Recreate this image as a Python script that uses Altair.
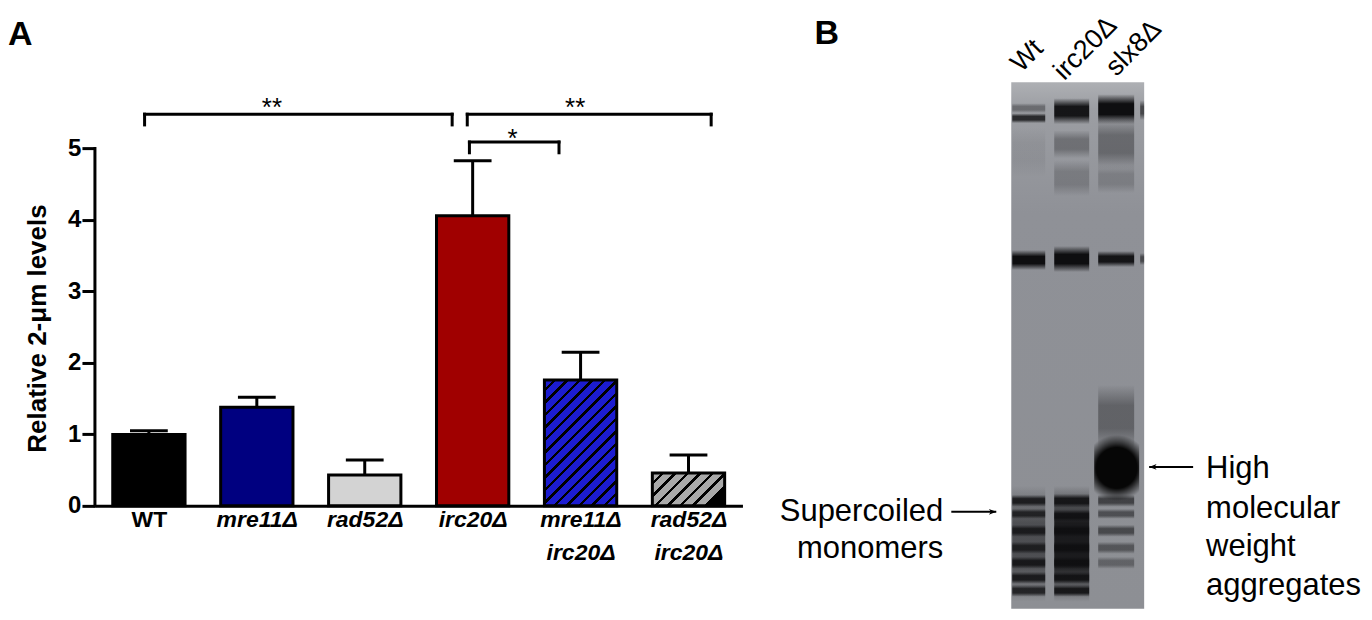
import json
import altair as alt
import pandas as pd

FONT = "Liberation Sans"

# ---------------- Panel A data ----------------
strains = ["WT", "mre11Δ", "rad52Δ", "irc20Δ", "mre11Δ irc20Δ", "rad52Δ irc20Δ"]
means = [1.00, 1.38, 0.43, 4.06, 1.76, 0.46]
sems = [0.05, 0.14, 0.21, 0.77, 0.39, 0.25]
fills = ["#000000", "#000080", "#d3d3d3", "#a00000", "#1c1cd0", "#a9a9a9"]
hatched = [False, False, False, False, True, True]

br_start = [-0.04, 2.95, 2.97]
br_end = [2.81, 5.21, 3.80]
br_level = [5.48, 5.48, 5.09]
br_label = ["**", "**", "*"]
br_label_x = [1.14, 3.95, 3.37]
br_label_y = [5.45, 5.45, 5.02]

# ---------------- Panel B data (gel, px-like units from gel top-left) ----------------
lane_names = ["Wt", "irc20Δ", "slx8Δ"]
lane_label_x = [10, 53, 105]
lane_label_y = [-9, -1, -5]
lane_left = [1, 43, 87, 129]
lane_right = [34, 78, 123, 133]
gel_w = 133
gel_h = 527

band_lane = [0] * 12 + [1] * 12 + [2] * 10 + [3] * 2
band_center = [26, 36, 70, 178, 462, 419, 432, 449, 466, 481, 496, 509,
               29, 62, 96, 177, 462, 419, 434, 449, 466, 481, 496, 509,
               27, 62, 97, 177, 335, 419, 432, 449, 466, 481,
               28, 177]
band_half = [5, 5, 25, 10, 58, 6, 5, 6, 6, 6, 6, 6,
             13, 14, 18, 13, 58, 7, 6, 6, 6, 6, 6, 6,
             15, 25, 14, 8, 32, 6, 5, 6, 6, 6,
             10, 6]
band_strength = [0.35, 0.8, 0.06, 1.0, 0.5, 0.85, 0.75, 0.8, 0.75, 0.85, 0.85, 0.8,
                 0.95, 0.3, 0.2, 1.0, 0.9, 0.9, 0.9, 0.9, 0.9, 0.9, 0.9, 0.9,
                 1.0, 0.35, 0.18, 0.95, 0.35, 0.6, 0.5, 0.55, 0.45, 0.35,
                 0.6, 0.55]

blob_lane = 2
blob_center = 386
blob_half = 33

left_text = ["Supercoiled", "monomers"]
left_text_y = [430, 467]
left_text_x = -68
right_text = ["High", "molecular", "weight", "aggregates"]
right_text_y = [387, 427, 465, 504]
right_text_x = 195
arrow_from = [-60, 182]
arrow_to = [-15, 138]
arrow_y = [430, 385]

# ---------------- Panel A chart ----------------
W_A, H_A, YMAX = 648, 422, 5.9
BAR_HALF = 0.335
STEP = W_A / 6
W_BAR_PX = 2 * BAR_HALF * STEP

xa = alt.Scale(domain=[-0.5, 5.5], nice=False, zero=False)
ya = alt.Scale(domain=[0, YMAX], nice=False, zero=False)

label_expr = "split(" + json.dumps(strains, ensure_ascii=False) + "[datum.value], ' ')"
ax_x = alt.Axis(values=[0, 1, 2, 3, 4, 5], labelExpr=label_expr, ticks=False,
                domainWidth=3, domainColor="black", labelFontSize=23,
                labelFontWeight="bold",
                labelFontStyle={"condition": {"test": "datum.value == 0", "value": "normal"}, "value": "italic"},
                labelLineHeight=33, labelPadding=3, labelOverlap=False, labelFlush=False,
                labelBound=False, grid=False, title=None, labelColor="black", labelFont=FONT,
                labelAngle=0)
ax_y = alt.Axis(values=[0, 1, 2, 3, 4, 5], tickSize=13, tickWidth=3, tickColor="black",
                domain=False, labelFontSize=24, labelFontWeight="bold", labelPadding=1,
                grid=False, title="Relative 2-μm levels", titleFontSize=26,
                titleFontWeight="bold", titleX=-44, titleY=244, titleColor="black",
                labelColor="black", labelFont=FONT, titleFont=FONT)

df = pd.DataFrame({"strain": strains, "mean": means, "sem": sems, "fill": fills,
                   "hatched": hatched})
df["idx"] = range(len(df))
df["lo"] = df["idx"] - BAR_HALF
df["hi"] = df["idx"] + BAR_HALF
df["top"] = df["mean"] + df["sem"]
df["cap_lo"] = df["idx"] - 0.175
df["cap_hi"] = df["idx"] + 0.175

base = alt.Chart(df)

err_v = base.mark_rule(strokeWidth=3, color="black").encode(
    x=alt.X("idx:Q", scale=xa, axis=ax_x), y=alt.Y("mean:Q", scale=ya, axis=ax_y), y2="top:Q")
err_c = base.mark_rule(strokeWidth=3, color="black").encode(
    x=alt.X("cap_lo:Q", scale=xa, axis=ax_x), x2="cap_hi:Q", y=alt.Y("top:Q", scale=ya, axis=ax_y))

solid = alt.Chart(df[~df["hatched"]]).mark_bar(stroke="black", strokeWidth=3).encode(
    x=alt.X("lo:Q", scale=xa, axis=ax_x), x2="hi:Q",
    y=alt.Y("mean:Q", scale=ya, axis=ax_y), y2=alt.datum(0),
    fill=alt.Fill("fill:N", scale=None))


def hatch(base_color, h_px, w_px=W_BAR_PX, period=12.5, ratio=0.3):
    n = (w_px ** 2 + h_px ** 2) / (period * w_px)
    stops = []
    k = 0
    while k / n < 1:
        a = k / n
        b = min((k + 1 - ratio) / n, 1)
        c = min((k + 1) / n, 1)
        stops += [{"offset": a, "color": base_color}, {"offset": b, "color": base_color},
                  {"offset": b, "color": "#000000"}, {"offset": c, "color": "#000000"}]
        k += 1
    return {"gradient": "linear", "x1": 0, "y1": 0, "x2": 1, "y2": h_px / w_px, "stops": stops}


hatch_layers = []
for _, r in df[df["hatched"]].iterrows():
    h_px = r["mean"] * H_A / YMAX
    hatch_layers.append(
        alt.Chart(df[df["idx"] == r["idx"]]).mark_bar(
            stroke="black", strokeWidth=3, fill=hatch(r["fill"], h_px)).encode(
            x=alt.X("lo:Q", scale=xa, axis=ax_x), x2="hi:Q",
            y=alt.Y("mean:Q", scale=ya, axis=ax_y), y2=alt.datum(0)))

yaxis_line = alt.Chart(df.head(1)).mark_rule(strokeWidth=3, color="black", strokeCap="square").encode(
    x=alt.X(datum=-0.5, scale=xa, axis=ax_x), y=alt.Y(datum=0, scale=ya, axis=ax_y), y2=alt.datum(5))

bdf = pd.DataFrame({"x1": br_start, "x2": br_end, "level": br_level, "label": br_label,
                    "lx": br_label_x, "ly": br_label_y})
bdf["low"] = bdf["level"] - 0.15
bb = alt.Chart(bdf)
br_h = bb.mark_rule(strokeWidth=3, color="black", strokeCap="square").encode(
    x=alt.X("x1:Q", scale=xa, axis=ax_x), x2="x2:Q", y=alt.Y("level:Q", scale=ya, axis=ax_y))
br_l = bb.mark_rule(strokeWidth=3, color="black", strokeCap="square").encode(
    x=alt.X("x1:Q", scale=xa, axis=ax_x), y=alt.Y("level:Q", scale=ya, axis=ax_y), y2="low:Q")
br_r = bb.mark_rule(strokeWidth=3, color="black", strokeCap="square").encode(
    x=alt.X("x2:Q", scale=xa, axis=ax_x), y=alt.Y("level:Q", scale=ya, axis=ax_y), y2="low:Q")
stars = bb.mark_text(fontSize=26, font=FONT, color="black", baseline="alphabetic").encode(
    x=alt.X("lx:Q", scale=xa, axis=ax_x), y=alt.Y("ly:Q", scale=ya, axis=ax_y), text="label:N")

chart_a = alt.layer(err_v, err_c, solid, *hatch_layers, yaxis_line, br_h, br_l, br_r, stars).properties(
    width=W_A, height=H_A,
    title=alt.TitleParams("A", anchor="start", frame="bounds", fontSize=34, fontWeight="bold",
                          font=FONT, color="black", offset=32, dx=-17))

# ---------------- Panel B chart ----------------
XB = [-237, 353]
YB = [2, 528]
W_B, H_B = 590, 526
xb = alt.Scale(domain=XB, nice=False, zero=False)
yb = alt.Scale(domain=YB, nice=False, zero=False, reverse=True)

gel_df = pd.DataFrame({"x0": [0], "x1": [gel_w], "y0": [0], "y1": [gel_h]})
gel_bg = alt.Chart(gel_df).mark_rect(fill={
    "gradient": "linear", "x1": 0, "y1": 0, "x2": 0, "y2": 1,
    "stops": [{"offset": 0, "color": "#aeb0b4"}, {"offset": 0.05, "color": "#9c9ea3"},
              {"offset": 0.25, "color": "#8f9197"}, {"offset": 1, "color": "#8d8f94"}]}).encode(
    x=alt.X("x0:Q", scale=xb, axis=None), x2="x1:Q",
    y=alt.Y("y0:Q", scale=yb, axis=None), y2="y1:Q")

bands = pd.DataFrame({"lane": band_lane, "c": band_center, "h": band_half, "s": band_strength})
bands["x0"] = [lane_left[i] for i in bands["lane"]]
bands["x1"] = [lane_right[i] for i in bands["lane"]]
bands["y0"] = bands["c"] - bands["h"]
bands["y1"] = bands["c"] + bands["h"]
band_layer = alt.Chart(bands).mark_rect(fill={
    "gradient": "linear", "x1": 0, "y1": 0, "x2": 0, "y2": 1,
    "stops": [{"offset": 0, "color": "rgba(14,14,16,0)"}, {"offset": 0.32, "color": "rgba(14,14,16,1)"},
              {"offset": 0.68, "color": "rgba(14,14,16,1)"}, {"offset": 1, "color": "rgba(14,14,16,0)"}]}).encode(
    x=alt.X("x0:Q", scale=xb, axis=None), x2="x1:Q",
    y=alt.Y("y0:Q", scale=yb, axis=None), y2="y1:Q",
    opacity=alt.Opacity("s:Q", scale=None))

blob_df = pd.DataFrame({"x0": [lane_left[blob_lane] - 4], "x1": [lane_right[blob_lane] + 5],
                        "y0": [blob_center - blob_half], "y1": [blob_center + blob_half]})
blob = alt.Chart(blob_df).mark_rect(fill={
    "gradient": "radial", "x1": 0.5, "y1": 0.5, "r1": 0, "x2": 0.5, "y2": 0.5, "r2": 0.5,
    "stops": [{"offset": 0, "color": "rgba(6,6,6,1)"}, {"offset": 0.62, "color": "rgba(6,6,6,1)"},
              {"offset": 1, "color": "rgba(6,6,6,0)"}]}).encode(
    x=alt.X("x0:Q", scale=xb, axis=None), x2="x1:Q",
    y=alt.Y("y0:Q", scale=yb, axis=None), y2="y1:Q")

lanes_df = pd.DataFrame({"t": lane_names, "x": lane_label_x, "y": lane_label_y})
lane_txt = alt.Chart(lanes_df).mark_text(angle=315, align="left", baseline="alphabetic",
                                          fontSize=27, font=FONT, color="black").encode(
    x=alt.X("x:Q", scale=xb, axis=None), y=alt.Y("y:Q", scale=yb, axis=None), text="t:N")

lt_df = pd.DataFrame({"t": left_text, "y": left_text_y, "x": [left_text_x] * len(left_text)})
lt = alt.Chart(lt_df).mark_text(align="right", baseline="middle", fontSize=31, font=FONT,
                                 color="black").encode(
    x=alt.X("x:Q", scale=xb, axis=None), y=alt.Y("y:Q", scale=yb, axis=None), text="t:N")
rt_df = pd.DataFrame({"t": right_text, "y": right_text_y, "x": [right_text_x] * len(right_text)})
rt = alt.Chart(rt_df).mark_text(align="left", baseline="middle", fontSize=31, font=FONT,
                                 color="black").encode(
    x=alt.X("x:Q", scale=xb, axis=None), y=alt.Y("y:Q", scale=yb, axis=None), text="t:N")

ar_df = pd.DataFrame({"x0": arrow_from, "x1": arrow_to, "y": arrow_y,
                      "shape": ["M0,0 L-1,-0.4 L-0.72,0 L-1,0.4 Z", "M0,0 L1,-0.4 L0.72,0 L1,0.4 Z"]})
ar_shaft = alt.Chart(ar_df).mark_rule(strokeWidth=2, color="black").encode(
    x=alt.X("x0:Q", scale=xb, axis=None), x2="x1:Q", y=alt.Y("y:Q", scale=yb, axis=None))
ar_head = alt.Chart(ar_df).mark_point(filled=True, color="black", opacity=1, size=220,
                                       strokeWidth=0).encode(
    x=alt.X("x1:Q", scale=xb, axis=None), y=alt.Y("y:Q", scale=yb, axis=None),
    shape=alt.Shape("shape:N", scale=None))

b_df = pd.DataFrame({"t": ["B"], "x": [-197], "y": [-38]})
b_lbl = alt.Chart(b_df).mark_text(align="left", baseline="alphabetic", fontSize=34,
                                   fontWeight="bold", font=FONT, color="black").encode(
    x=alt.X("x:Q", scale=xb, axis=None), y=alt.Y("y:Q", scale=yb, axis=None), text="t:N")

chart_b = alt.layer(gel_bg, band_layer, blob, lane_txt, lt, rt, ar_shaft, ar_head, b_lbl).properties(
    width=W_B, height=H_B)

chart = alt.hconcat(chart_a, chart_b, spacing=32).properties(
    padding={"top": 3, "left": 0, "right": 0, "bottom": 0}).configure(
    font=FONT).configure_view(stroke=None)

chart.save("out.html", embed_options={"renderer": "svg", "actions": False})
